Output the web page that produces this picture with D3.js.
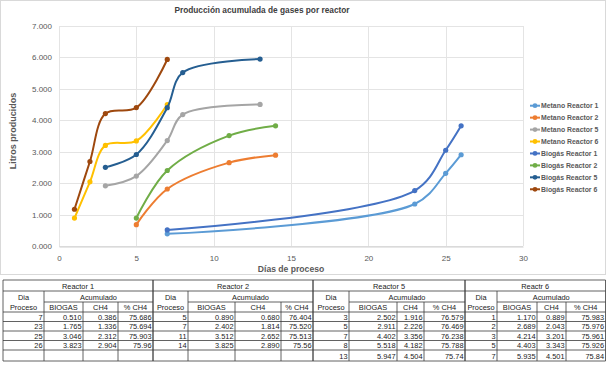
<!DOCTYPE html>
<html><head><meta charset="utf-8">
<script src="https://cdn.jsdelivr.net/npm/d3@7"></script>
<style>body{margin:0;background:#fff}svg{display:block;font-family:"Liberation Sans",Arial,sans-serif}</style>
</head><body><svg id="c" width="607" height="369"></svg>
<script>
// ---- data ----
const seriesNames = ["Metano Reactor 1","Metano Reactor 2","Metano Reactor 5","Metano Reactor 6","Biogás Reactor 1","Biogás Reactor 2","Biogás Reactor 5","Biogás Reactor 6"];
const seriesColors = ["#5B9BD5","#ED7D31","#A5A5A5","#FFC000","#4472C4","#70AD47","#255E91","#9E480E"];
const days_R1 = [7,23,25,26];
const days_R2 = [5,7,11,14];
const days_R5 = [3,5,7,8,13];
const days_R6 = [1,2,3,5,7];
const biogas_R1 = [0.510,1.765,3.046,3.823];
const biogas_R2 = [0.890,2.402,3.512,3.825];
const biogas_R5 = [2.502,2.911,4.402,5.518,5.947];
const biogas_R6 = [1.170,2.689,4.214,4.403,5.935];
const ch4_R1 = [0.386,1.336,2.312,2.904];
const ch4_R2 = [0.680,1.814,2.652,2.890];
const ch4_R5 = [1.916,2.226,3.356,4.182,4.504];
const ch4_R6 = [0.889,2.043,3.201,3.343,4.501];
const pct_R1 = ["75.686","75.694","75.903","75.96"];
const pct_R2 = ["76.404","75.520","75.513","75.56"];
const pct_R5 = ["76.579","76.469","76.238","75.788","75.74"];
const pct_R6 = ["75.983","75.976","75.961","75.926","75.84"];
const reactorLabels = ["Reactor 1","Reactor 2","Reactor 5","Reactr 6"];
const xTicks = [0,5,10,15,20,25,30];
const yTicks = [0,1,2,3,4,5,6,7];
const title = "Producción acumulada de gases por reactor";
const xTitle = "Días de proceso";
const yTitle = "Litros producidos";

const seriesData = [
  [days_R1, ch4_R1],[days_R2, ch4_R2],[days_R5, ch4_R5],[days_R6, ch4_R6],
  [days_R1, biogas_R1],[days_R2, biogas_R2],[days_R5, biogas_R5],[days_R6, biogas_R6]
].map(([xs,ys]) => xs.map((x,i)=>({x, y:ys[i]})));

const svg = d3.select("#c");
svg.append("rect").attr("x",0.5).attr("y",0.5).attr("width",605).attr("height",274)
  .attr("fill","#fff").attr("stroke","#d9d9d9");

const x = d3.scaleLinear().domain([0,30]).range([59,523]);
const y = d3.scaleLinear().domain([0,7]).range([246,26]);

// gridlines
svg.append("g").selectAll("line").data(yTicks).join("line")
  .attr("x1",x(0)).attr("x2",x(30)).attr("y1",d=>Math.round(y(d))+0.5).attr("y2",d=>Math.round(y(d))+0.5)
  .attr("stroke","#e4e4e4");
svg.append("g").selectAll("line").data(xTicks).join("line")
  .attr("y1",y(0)).attr("y2",y(7)).attr("x1",d=>Math.round(x(d))+0.5).attr("x2",d=>Math.round(x(d))+0.5)
  .attr("stroke","#e4e4e4");

// axes
const xAxis = svg.append("g").attr("transform",`translate(0,${Math.round(y(0))+0.5})`)
  .call(d3.axisBottom(x).tickValues(xTicks).tickSize(0).tickPadding(9));
xAxis.select(".domain").attr("stroke","#d0d0d0");
xAxis.selectAll("text").attr("font-size",8).attr("fill","#595959").attr("font-family","Liberation Sans, Arial");
const yAxis = svg.append("g").attr("transform",`translate(${x(0)},0)`)
  .call(d3.axisLeft(y).tickValues(yTicks).tickFormat(d3.format(".3f")).tickSize(0).tickPadding(7));
yAxis.select(".domain").remove();
yAxis.selectAll("text").attr("font-size",8).attr("fill","#595959").attr("font-family","Liberation Sans, Arial");

// lines
const line = d3.line().x(d=>x(d.x)).y(d=>y(d.y)).curve(d3.curveCatmullRom.alpha(0.5));
seriesData.forEach((pts,i)=>{
  svg.append("path").attr("d",line(pts)).attr("fill","none")
    .attr("stroke",seriesColors[i]).attr("stroke-width",2);
  svg.append("g").selectAll("circle").data(pts).join("circle")
    .attr("cx",d=>x(d.x)).attr("cy",d=>y(d.y)).attr("r",2.6).attr("fill",seriesColors[i]);
});

// titles
svg.append("text").attr("x",262).attr("y",13).attr("text-anchor","middle")
  .attr("font-size",8.3).attr("font-weight","bold").attr("fill","#404040").text(title);
svg.append("text").attr("x",291).attr("y",271.5).attr("text-anchor","middle")
  .attr("font-size",8.6).attr("font-weight","bold").attr("fill","#595959").text(xTitle);
svg.append("text").attr("transform","translate(16,131) rotate(-90)").attr("text-anchor","middle")
  .attr("font-size",9).attr("font-weight","bold").attr("fill","#595959").text(yTitle);

// legend
const lg = svg.append("g").selectAll("g").data(seriesNames).join("g")
  .attr("transform",(d,i)=>`translate(530,${105.7+i*11.94})`);
lg.append("line").attr("x1",0).attr("x2",10).attr("stroke",(d,i)=>seriesColors[i]).attr("stroke-width",2);
lg.append("circle").attr("cx",5).attr("r",2.4).attr("fill",(d,i)=>seriesColors[i]);
lg.append("text").attr("x",11).attr("dy","0.35em").attr("font-size",6.9).attr("font-weight","bold")
  .attr("fill","#595959").text(d=>d);

// table
const tableBlocks = [
  {label:reactorLabels[0], days:days_R1, bio:biogas_R1, ch4:ch4_R1, pct:pct_R1, cols:[3,44,83,118,153]},
  {label:reactorLabels[1], days:days_R2, bio:biogas_R2, ch4:ch4_R2, pct:pct_R2, cols:[153,188,235,281,313]},
  {label:reactorLabels[2], days:days_R5, bio:biogas_R5, ch4:ch4_R5, pct:pct_R5, cols:[313,349,397,424,465]},
  {label:reactorLabels[3], days:days_R6, bio:biogas_R6, ch4:ch4_R6, pct:pct_R6, cols:[465,497,537,566,605.5]}
];
const rowsY = [280,291,302,312,321.5,331,340.5,350,361];
const tg = svg.append("g").attr("font-size",7.4).attr("fill","#1a1a1a");
const L = (x1,y1,x2,y2)=>tg.append("line").attr("x1",x1).attr("y1",y1).attr("x2",x2).attr("y2",y2)
  .attr("stroke","#3a3a3a").attr("stroke-width",0.8);
const f3 = d3.format(".3f");
tableBlocks.forEach(b=>{
  const c=b.cols, l=c[0], r=c[4];
  L(l,rowsY[0],r,rowsY[0]);
  L(l,rowsY[1],r,rowsY[1]);
  L(c[1],rowsY[2],r,rowsY[2]);
  for(let k=3;k<rowsY.length;k++) L(l,rowsY[k],r,rowsY[k]);
  L(l,rowsY[0],l,rowsY[8]); L(r,rowsY[0],r,rowsY[8]);
  L(c[1],rowsY[1],c[1],rowsY[8]);
  L(c[2],rowsY[2],c[2],rowsY[8]); L(c[3],rowsY[2],c[3],rowsY[8]);
  const T=(tx,ty,s,anchor)=>tg.append("text").attr("x",tx).attr("y",ty).attr("text-anchor",anchor).text(s);
  T((l+r)/2,rowsY[1]-2.5,b.label,"middle");
  T((l+c[1])/2,rowsY[2]-2.5,"Dia","middle");
  T((c[1]+r)/2,rowsY[2]-2.5,"Acumulado","middle");
  T((l+c[1])/2,rowsY[3]-2.2,"Proceso","middle");
  T((c[1]+c[2])/2,rowsY[3]-2.2,"BIOGAS","middle");
  T((c[2]+c[3])/2,rowsY[3]-2.2,"CH4","middle");
  T((c[3]+c[4])/2,rowsY[3]-2.2,"% CH4","middle");
  b.days.forEach((d,i)=>{
    const by=rowsY[4+i]-2;
    T(c[1]-1.5,by,d,"end");
    T(c[2]-1.5,by,f3(b.bio[i]),"end");
    T(c[3]-1.5,by,f3(b.ch4[i]),"end");
    T(c[4]-1.5,by,b.pct[i],"end");
  });
});
</script></body></html>
